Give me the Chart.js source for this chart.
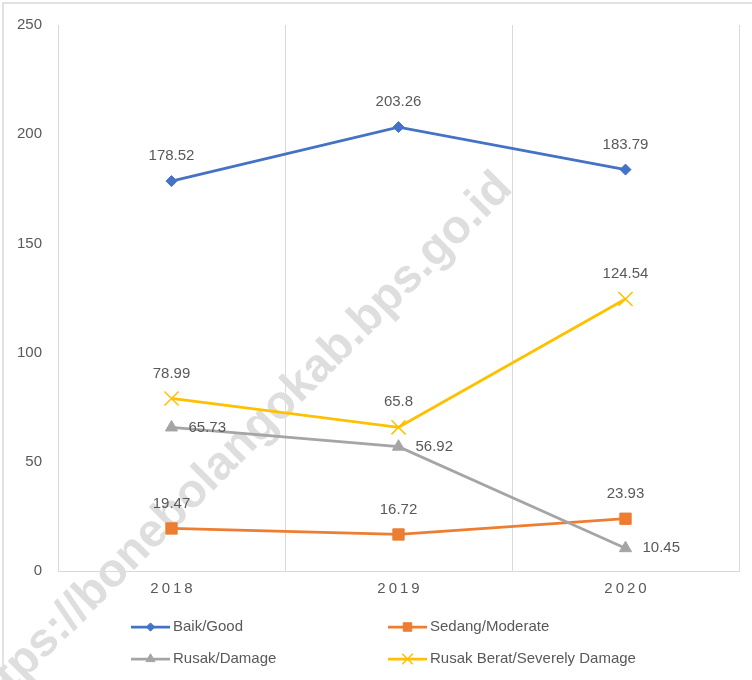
<!DOCTYPE html>
<html>
<head>
<meta charset="utf-8">
<script src="https://cdn.jsdelivr.net/npm/chart.js@4.4.1/dist/chart.umd.min.js"></script>
<style>
  html, body { margin: 0; padding: 0; background: #ffffff; }
  #wrap { position: relative; width: 752px; height: 680px; overflow: hidden; }
  canvas { display: block; }
</style>
</head>
<body>
<div id="wrap"><canvas id="c" width="752" height="680"></canvas></div>
<script>
// ---- data ----
const categories = ['2018', '2019', '2020'];
const baikGood = [178.52, 203.26, 183.79];
const sedangModerate = [19.47, 16.72, 23.93];
const rusakDamage = [65.73, 56.92, 10.45];
const rusakBeratSevere = [78.99, 65.8, 124.54];
const yTickValues = [0, 50, 100, 150, 200, 250];
const seriesNames = ['Baik/Good', 'Sedang/Moderate', 'Rusak/Damage', 'Rusak Berat/Severely Damage'];
const watermarkText = 'https://bonebolangokab.bps.go.id';

const FONT = "'Liberation Sans', Arial, sans-serif";
const TEXT = '#595959';
const GRID = '#d9d9d9';

const datasets = [
  { label: seriesNames[0], data: baikGood, borderColor: '#4472C4', backgroundColor: '#4472C4',
    pointStyle: 'rectRot', pointRadius: 5.5, pointBorderWidth: 1, labelPos: 'top', order: 4 },
  { label: seriesNames[1], data: sedangModerate, borderColor: '#ED7D31', backgroundColor: '#ED7D31',
    pointStyle: 'rect', pointRadius: 8, pointBorderWidth: 1, labelPos: 'top', order: 3 },
  { label: seriesNames[2], data: rusakDamage, borderColor: '#A5A5A5', backgroundColor: '#A5A5A5',
    pointStyle: 'triangle', pointRadius: 7, pointBorderWidth: 1, labelPos: 'right', order: 2 },
  { label: seriesNames[3], data: rusakBeratSevere, borderColor: '#FFC000', backgroundColor: '#FFC000',
    pointStyle: 'crossRot', pointRadius: 10, pointBorderWidth: 1.5, labelPos: 'top', order: 1 }
].map(d => Object.assign({ borderWidth: 2.75, tension: 0, fill: false, pointHoverRadius: d.pointRadius }, d));

// frame (outer border at top and left)
const framePlugin = {
  id: 'frame',
  beforeDraw(chart) {
    const ctx = chart.ctx;
    ctx.save();
    ctx.fillStyle = '#ffffff';
    ctx.fillRect(0, 0, chart.width, chart.height);
    ctx.strokeStyle = GRID;
    ctx.lineWidth = 1.5;
    ctx.beginPath();
    ctx.moveTo(3, chart.height);
    ctx.lineTo(3, 3);
    ctx.lineTo(chart.width, 3);
    ctx.stroke();
    ctx.restore();
  }
};

// watermark
const watermarkPlugin = {
  id: 'watermark',
  beforeDatasetsDraw(chart) {
    const ctx = chart.ctx;
    ctx.save();
    ctx.translate(514, 190);
    ctx.rotate(-Math.PI / 4);
    ctx.font = "bold 47px " + FONT;
    ctx.fillStyle = '#dedede';
    ctx.textAlign = 'right';
    ctx.textBaseline = 'alphabetic';
    ctx.fillText(watermarkText, 0, 0);
    ctx.restore();
  }
};

// data labels
const dataLabelPlugin = {
  id: 'dataLabels',
  afterDatasetsDraw(chart) {
    const ctx = chart.ctx;
    ctx.save();
    ctx.font = '15px ' + FONT;
    ctx.fillStyle = TEXT;
    chart.data.datasets.forEach((ds, i) => {
      const meta = chart.getDatasetMeta(i);
      meta.data.forEach((pt, j) => {
        const v = ds.data[j];
        const txt = String(v);
        if (ds.labelPos === 'right') {
          ctx.textAlign = 'left';
          ctx.textBaseline = 'middle';
          ctx.fillText(txt, pt.x + 17, pt.y);
        } else {
          ctx.textAlign = 'center';
          ctx.textBaseline = 'middle';
          ctx.fillText(txt, pt.x, pt.y - 25);
        }
      });
    });
    ctx.restore();
  }
};

// legend (two columns, two rows, under the axis)
const legendPlugin = {
  id: 'customLegend',
  afterDraw(chart) {
    const ctx = chart.ctx;
    const area = chart.chartArea;
    const rowY = [area.bottom + 56, area.bottom + 88];
    const colX = [131, 388];
    ctx.save();
    chart.data.datasets.forEach((ds, i) => {
      const x = colX[i % 2];
      const y = rowY[Math.floor(i / 2)];
      ctx.strokeStyle = ds.borderColor;
      ctx.lineWidth = ds.borderWidth;
      ctx.beginPath();
      ctx.moveTo(x, y);
      ctx.lineTo(x + 39, y);
      ctx.stroke();
      ctx.fillStyle = ds.backgroundColor;
      ctx.strokeStyle = ds.borderColor;
      ctx.lineWidth = ds.pointBorderWidth;
      Chart.helpers.drawPoint(ctx, {
        pointStyle: ds.pointStyle,
        radius: ds.pointRadius * 0.75,
        rotation: 0,
        borderWidth: ds.pointBorderWidth
      }, x + 19.5, y);
      ctx.fillStyle = TEXT;
      ctx.font = '15px ' + FONT;
      ctx.textAlign = 'left';
      ctx.textBaseline = 'middle';
      ctx.fillText(ds.label, x + 42, y);
    });
    ctx.restore();
  }
};

new Chart(document.getElementById('c'), {
  type: 'line',
  data: { labels: categories, datasets: datasets },
  options: {
    responsive: false,
    animation: false,
    devicePixelRatio: 1,
    layout: { padding: { top: 25, right: 13, left: 0, bottom: 79 } },
    plugins: { legend: { display: false }, tooltip: { enabled: false } },
    scales: {
      x: {
        offset: true,
        grid: { display: true, offset: true, color: GRID, lineWidth: 1, drawTicks: false },
        border: { display: true, color: GRID, width: 1 },
        ticks: {
          color: TEXT, font: { family: FONT, size: 15 }, padding: 9,
          callback: function (v, i) { return categories[i].split('').join('\u2009'); }
        },
        afterFit: function (s) { s.height = 30; }
      },
      y: {
        min: 0, max: 250,
        afterBuildTicks: function (s) { s.ticks = yTickValues.map(v => ({ value: v })); },
        grid: { display: false, drawTicks: false },
        border: { display: true, color: GRID, width: 1 },
        ticks: { color: TEXT, font: { family: FONT, size: 15 }, padding: 16 },
        afterFit: function (s) { s.width = 58; }
      }
    }
  },
  plugins: [framePlugin, watermarkPlugin, dataLabelPlugin, legendPlugin]
});
</script>
</body>
</html>
